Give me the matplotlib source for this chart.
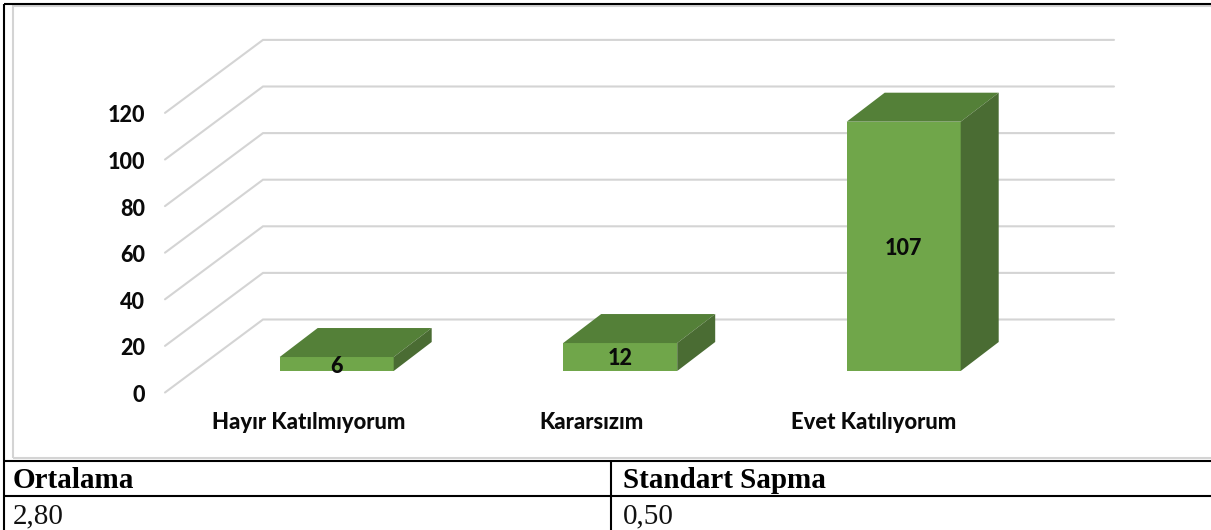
import matplotlib
matplotlib.use("Agg")
import matplotlib.pyplot as plt
from matplotlib.lines import Line2D
from matplotlib.patches import Polygon

categories = ["Hayır Katılmıyorum", "Kararsızım", "Evet Katılıyorum"]
values = [6, 12, 107]
y_ticks = [0, 20, 40, 60, 80, 100, 120]
table_head = ["Ortalama", "Standart Sapma"]
table_row = ["2,80", "0,50"]

W, H = 1211, 530
FRONT, TOP, SIDE = "#70a64a", "#548038", "#4a6c33"
GRID = "#d4d4d4"
INK = "#0a0a0a"

# layout, in pixels of the picture
px_y = 2.33      # pixels per unit of value
px_x = 283.5     # pixels per category
x0_px, y0_px = 336.7, 392.5

fig = plt.figure(figsize=(W / 100, H / 100), dpi=100, facecolor="white")
ax = fig.add_axes([0, 0, 1, 1])
ax.set_xlim(-x0_px / px_x, (W - x0_px) / px_x)
ax.set_ylim(-(H - y0_px) / px_y, y0_px / px_y)
ax.axis("off")

# walls of the 3d box
wall_left = (165 - x0_px) / px_x
wall_right = (1114 - x0_px) / px_x
wall_dx = 98 / px_x
wall_dy = 73 / px_y
for t in y_ticks:
    ax.plot([wall_left, wall_left + wall_dx, wall_right],
            [t, t + wall_dy, t + wall_dy],
            color=GRID, lw=1.5, solid_capstyle="round", solid_joinstyle="miter", zorder=1)
    ax.text(wall_left - 20 / px_x, t - 1.3, str(t), ha="right", va="center",
            family="Lato", fontweight=900, fontsize=15.5, color=INK)

# bars
bar_w = 114 / px_x
bar_base = 21.5 / px_y
dx = 38 / px_x
dy = 29 / px_y
label_nudge = [-1.0, -0.5, -1.0]   # small vertical shifts of the data labels
cat_nudge = [-28, -29, -30]        # category labels are not centred under the bars
for i, v in enumerate(values):
    left = i - bar_w / 2
    right = i + bar_w / 2
    top = bar_base + v
    ax.bar(i, v, width=bar_w, bottom=bar_base, color=FRONT, zorder=3)
    ax.add_patch(Polygon([(left, top), (left + dx, top + dy), (right + dx, top + dy), (right, top)],
                         closed=True, facecolor=TOP, edgecolor="none", zorder=3))
    ax.add_patch(Polygon([(right, bar_base), (right + dx, bar_base + dy), (right + dx, top + dy), (right, top)],
                         closed=True, facecolor=SIDE, edgecolor="none", zorder=3))
    ax.text(i, bar_base + v / 2 + label_nudge[i], str(v), ha="center", va="center",
            family="Lato", fontweight=900, fontsize=15.5, color=INK, zorder=4)
    ax.text(i + cat_nudge[i] / px_x, -(429 - y0_px) / px_y, categories[i], ha="center", va="baseline",
            family="Lato", fontweight=900, fontsize=15.8, color=INK)


def rule(x1, y1, x2, y2, color="black", lw=1.5):
    fig.add_artist(Line2D([x1 / W, x2 / W], [1 - y1 / H, 1 - y2 / H], color=color, lw=lw,
                          solid_capstyle="butt"))


# chart frame and table rules
rule(13, 5.5, W, 5.5, GRID, 1.5)
rule(13, 5, 13, 457.5, GRID, 1.5)
rule(13, 457.5, W, 457.5, GRID, 1.5)
rule(4, 4, W, 4)
rule(4, 4, 4, H)
rule(4, 461, W, 461)
rule(4, 496, W, 496)
rule(611, 461, 611, H)

for xp, head, cell in zip([13, 623], table_head, table_row):
    fig.text(xp / W, 1 - 481 / H, head, ha="left", va="center", family="Liberation Serif",
             fontweight="bold", fontsize=21, color="black")
    fig.text(xp / W, 1 - 516 / H, cell, ha="left", va="center", family="Liberation Serif",
             fontsize=21, color="#111111")

fig.savefig("out.png", dpi=100)
